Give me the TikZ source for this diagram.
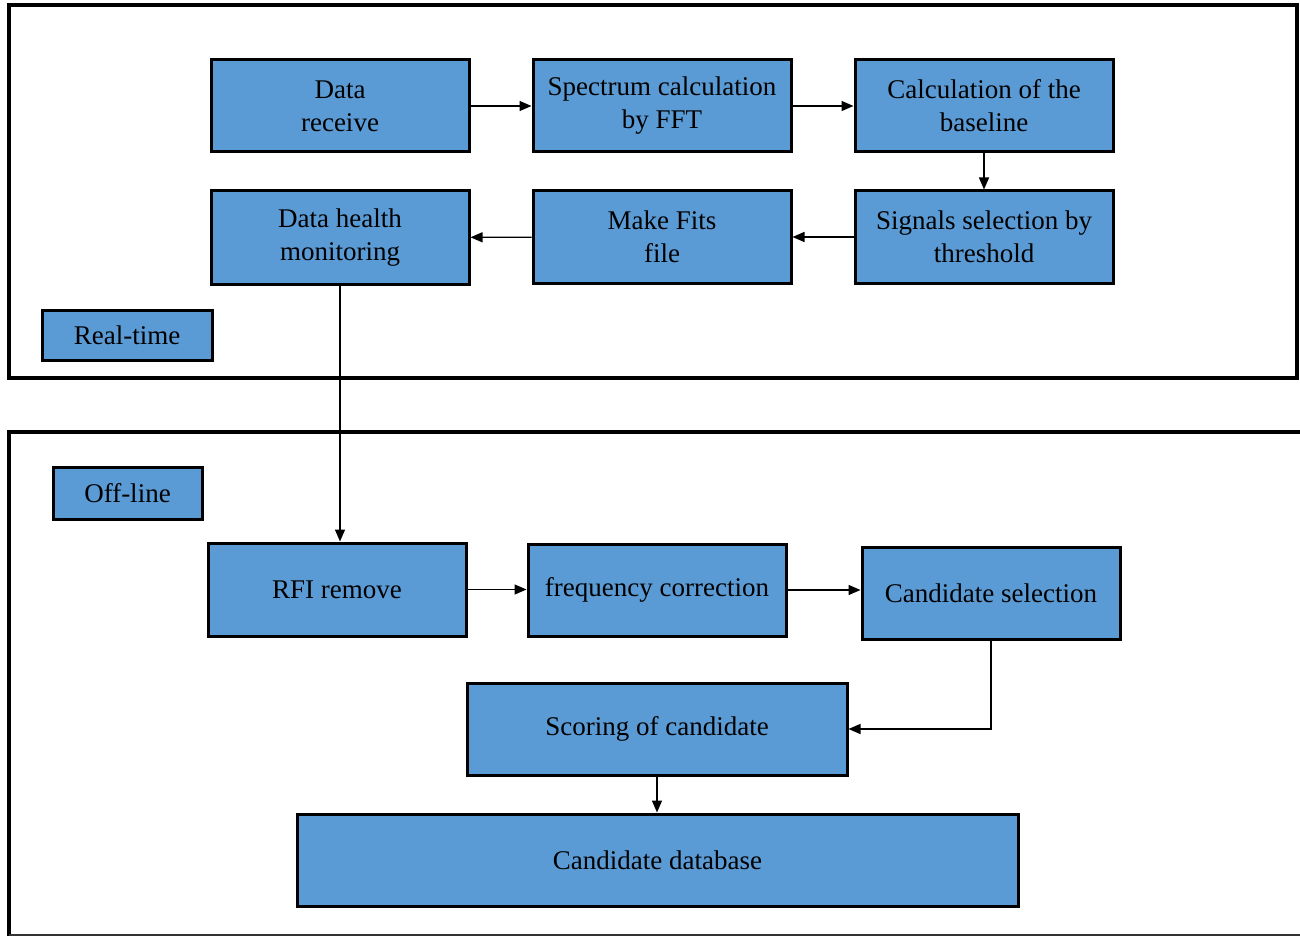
\documentclass[tikz,border=0pt]{standalone}
\usepackage{fontspec}
\setmainfont{Liberation Serif}
\usetikzlibrary{arrows.meta}
\definecolor{boxblue}{HTML}{5B9BD5}
\tikzset{
  stepbox/.style={draw=black, line width=3pt, fill=boxblue, align=center, inner sep=0pt,
    font=\fontsize{27}{33}\selectfont, text=black},
  conn/.style={draw=black, line width=1.4pt, -{Triangle[length=12pt,width=10pt]}},
  frame/.style={draw=black, line width=4pt}
}
\newcommand{\bx}[6]{\node[stepbox, minimum width=#4-#2, minimum height=#5-#3] (#1) at ({(#2+#4)/2},{(#3+#5)/2}) {#6};}
\begin{document}
\begin{tikzpicture}[x=1pt,y=-1pt]
\useasboundingbox (0,0) rectangle (1300,936);
% frames
\draw[frame] (9,5) rectangle (1297,378);
\draw[frame] (1305,432) -- (9,432) -- (9,936);
\draw[draw=black!80, line width=1.5pt] (9,935) -- (1305,935);
% boxes
\bx{recv}{211}{60}{469}{152}{Data\\receive}
\bx{spec}{533}{60}{791}{152}{Spectrum calculation\\by FFT}
\bx{base}{855}{60}{1113}{152}{Calculation of the\\baseline}
\bx{health}{211}{191}{469}{284}{Data health\\monitoring}
\bx{fits}{533}{191}{791}{283}{Make Fits\\file}
\bx{sig}{855}{191}{1113}{283}{Signals selection by\\threshold}
\bx{rt}{42}{310}{212}{360}{Real-time}
\bx{ol}{53}{467}{202}{519}{Off-line}
\bx{rfi}{208}{543}{466}{636}{RFI remove}
\bx{freq}{528}{544}{786}{636}{frequency correction}
\bx{csel}{862}{547}{1120}{639}{Candidate selection}
\bx{score}{467}{683}{847}{775}{Scoring of candidate}
\bx{db}{297}{814}{1018}{906}{Candidate database}
% connectors
\draw[conn] (health.south) -- (health.south |- rfi.north);
\draw[conn] (recv) -- (spec);
\draw[conn] (spec) -- (base);
\draw[conn] (base) -- (sig);
\draw[conn] (sig) -- (fits);
\draw[conn] (fits) -- (health);
\draw[conn] (rfi.east) -- (rfi.east -| freq.west);
\draw[conn] (freq.east) -- (freq.east -| csel.west);
\draw[conn] (csel.south) |- (score.east);
\draw[conn] (score.south) -- (score.south |- db.north);
\end{tikzpicture}
\end{document}
